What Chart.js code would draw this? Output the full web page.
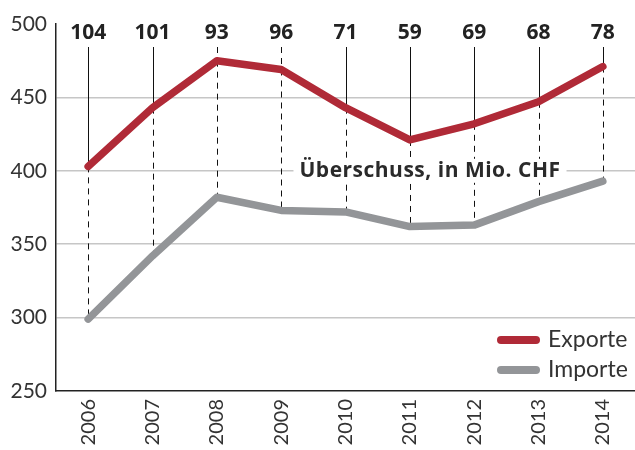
<!DOCTYPE html>
<html lang="de">
<head>
    <meta charset="UTF-8">
    <title>Exporte und Importe</title>
    <script src="https://cdn.jsdelivr.net/npm/chart.js@4.4.1/dist/chart.umd.min.js"></script>
    <style>
        body { margin: 0; background: #fff; }
        .chart-container { width: 635px; height: 450px; }
    </style>
</head>
<body>
    <div class="chart-container">
        <canvas id="tradeChart"></canvas>
    </div>

    <script>
        // Daten
        const years = ['2006', '2007', '2008', '2009', '2010', '2011', '2012', '2013', '2014'];
        const exporte = [403, 443, 475, 469, 443, 421, 432, 447, 471];
        const importe = [299, 342, 382, 373, 372, 362, 363, 379, 393];
        const surplus = [104, 101, 93, 96, 71, 59, 69, 68, 78];
        const yTicks = [250, 300, 350, 400, 450, 500];
        const surplusTitle = 'Überschuss, in Mio. CHF';

        const RED = '#b02a37';
        const GREY = '#939598';
        const FONT = 'Lato, "Open Sans", sans-serif';
        const BOLD = '"Open Sans", Lato, sans-serif';

        // Überschuss-Linien, Zahlen oben, Beschriftung in der Mitte
        const surplusPlugin = {
            id: 'surplus',
            beforeDatasetsDraw(chart) {
                const ctx = chart.ctx;
                const x = chart.scales.x, y = chart.scales.y;
                const top = chart.chartArea.top + 23;
                const dashedTop = [2, 3]; // 2008, 2009 oben gestrichelt
                ctx.save();
                ctx.strokeStyle = '#111';
                ctx.lineWidth = 1;
                years.forEach((yr, i) => {
                    const px = Math.round(x.getPixelForValue(i)) + 0.5;
                    const pe = y.getPixelForValue(exporte[i]);
                    const pi = y.getPixelForValue(importe[i]);
                    ctx.setLineDash(dashedTop.includes(i) ? [6, 5] : []);
                    ctx.beginPath();
                    ctx.moveTo(px, top);
                    ctx.lineTo(px, pe);
                    ctx.stroke();
                    ctx.setLineDash([6, 5]);
                    ctx.beginPath();
                    ctx.moveTo(px, pe);
                    ctx.lineTo(px, pi);
                    ctx.stroke();
                });
                ctx.setLineDash([]);

                // Zahlen
                ctx.fillStyle = '#222';
                ctx.font = 'bold 21px ' + BOLD;
                ctx.textAlign = 'center';
                ctx.textBaseline = 'middle';
                years.forEach((yr, i) => {
                    ctx.fillText(String(surplus[i]), x.getPixelForValue(i), chart.chartArea.top + 9);
                });

                // Titel mit weissem Hintergrund
                ctx.font = 'bold 21px ' + BOLD;
                ctx.letterSpacing = '0.5px';
                const cx = 430, cy = y.getPixelForValue(400);
                const w = ctx.measureText(surplusTitle).width;
                ctx.fillStyle = '#fff';
                ctx.fillRect(cx - w / 2 - 6, cy - 12, w + 12, 24);
                ctx.fillStyle = '#2a2a2a';
                ctx.fillText(surplusTitle, cx, cy);
                ctx.letterSpacing = '0px';
                ctx.restore();
            },
            afterDraw(chart) {
                // Legende unten rechts
                const ctx = chart.ctx;
                ctx.save();
                ctx.font = '23px ' + FONT;
                ctx.textBaseline = 'middle';
                ctx.textAlign = 'left';
                ctx.lineCap = 'round';
                ctx.lineWidth = 8;
                chart.data.datasets.forEach((ds, i) => {
                    const ly = 340 + i * 30;
                    ctx.strokeStyle = ds.borderColor;
                    ctx.beginPath();
                    ctx.moveTo(501, ly);
                    ctx.lineTo(536, ly);
                    ctx.stroke();
                    ctx.fillStyle = '#333';
                    ctx.fillText(ds.label, 548, ly);
                });
                ctx.restore();
            }
        };

        const config = {
            type: 'line',
            data: {
                labels: years,
                datasets: [
                    {
                        label: 'Exporte',
                        data: exporte,
                        borderColor: RED,
                        backgroundColor: RED,
                        borderWidth: 7.5,
                        borderCapStyle: 'round',
                        borderJoinStyle: 'round',
                        pointRadius: 0,
                        tension: 0
                    },
                    {
                        label: 'Importe',
                        data: importe,
                        borderColor: GREY,
                        backgroundColor: GREY,
                        borderWidth: 7.5,
                        borderCapStyle: 'round',
                        borderJoinStyle: 'round',
                        pointRadius: 0,
                        tension: 0
                    }
                ]
            },
            options: {
                responsive: true,
                maintainAspectRatio: false,
                animation: false,
                layout: { padding: { top: 24, right: 0, left: 0, bottom: 0 } },
                plugins: {
                    legend: { display: false },
                    tooltip: { enabled: false }
                },
                scales: {
                    x: {
                        offset: true,
                        grid: { display: false, drawTicks: false },
                        border: { display: true, color: '#222', width: 1.5 },
                        ticks: {
                            minRotation: 90,
                            maxRotation: 90,
                            padding: 8,
                            color: '#333',
                            font: { family: FONT, size: 20 }
                        },
                        afterFit(scale) { scale.height = 59; }
                    },
                    y: {
                        min: 250,
                        max: 500,
                        afterBuildTicks(scale) {
                            scale.ticks = yTicks.map(v => ({ value: v }));
                        },
                        grid: {
                            drawTicks: false,
                            lineWidth: 1.5,
                            color: ctx => (ctx.tick && (ctx.tick.value === 500 || ctx.tick.value === 250)) ? 'rgba(0,0,0,0)' : '#c6c6c6'
                        },
                        border: { display: true, color: '#222', width: 1.5 },
                        ticks: {
                            padding: 9,
                            color: '#333',
                            font: { family: FONT, size: 21 }
                        },
                        afterFit(scale) { scale.width = 56; }
                    }
                }
            },
            plugins: [surplusPlugin]
        };

        new Chart(document.getElementById('tradeChart').getContext('2d'), config);
    </script>
</body>
</html>
